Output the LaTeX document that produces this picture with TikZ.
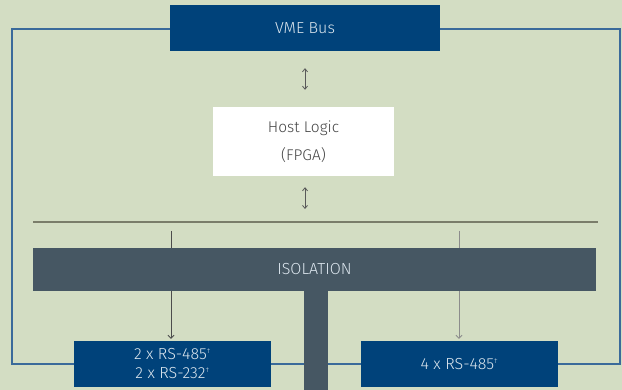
\documentclass[tikz,border=0pt]{standalone}
\usepackage{fontspec}
\setmainfont{Fira Sans}[UprightFont=* Light]
\usetikzlibrary{arrows.meta}
\definecolor{bg}{HTML}{D3DDC3}
\definecolor{navy}{HTML}{00427A}
\definecolor{slate}{HTML}{465763}
\definecolor{frame}{HTML}{3A6A9A}
\definecolor{busline}{HTML}{7A7D6A}
\definecolor{lighttxt}{HTML}{DCE6EE}
\definecolor{darktxt}{HTML}{444444}
\tikzset{
  navybox/.style={fill=navy, draw=none, text=lighttxt, minimum width=#1, minimum height=46pt, inner sep=0pt, align=center, font=\fontsize{16}{19}\selectfont},
  hostbox/.style={fill=white, draw=none, text=darktxt, minimum width=181pt, minimum height=69pt, inner sep=0pt, align=center, font=\fontsize{15.5}{28}\selectfont},
  isobar/.style={fill=slate, draw=none, text=lighttxt, minimum width=563pt, minimum height=43pt, inner sep=0pt, font=\fontsize{16}{18}\selectfont},
  dbl/.style={draw=black!65, line width=0.8pt, {Straight Barb[length=3pt,width=5pt]}-{Straight Barb[length=3pt,width=5pt]}},
  down/.style={line width=0.8pt, -{Straight Barb[length=3pt,width=6pt]}},
  plain/.style={line width=0.8pt},
}
\newcommand{\mk}{\textsuperscript{\fontsize{7}{7}\selectfont\textdagger}}
\begin{document}
\begin{tikzpicture}[x=1pt, y=-1pt]
\useasboundingbox (0,0) rectangle (622,390);
\fill[bg] (0,0) rectangle (622,390);
% frame
\draw[frame, line width=1.4pt] (12,29) rectangle (620,364);
% bus line
\coordinate (busL) at (33,222);
\coordinate (busR) at (598,222);
\draw[busline, line width=2pt] (busL) -- (busR);
% isolation
\node[isobar] (iso) at (314.5,269.5) {ISOLATION};
\fill[slate] (304,291) rectangle (328,390);
\node[navybox=270pt] (vme) at (305,28) {VME Bus};
\node[hostbox] (host) at (303.5,141.5) {Host Logic\\(FPGA)};
\node[navybox=197pt] (lbox) at (172.5,364) {2 x RS-485\mk\\2 x RS-232\mk};
\node[navybox=197pt] (rbox) at (459.5,364) {4 x RS-485\mk};
% arrows
\draw[dbl, shorten <=17pt, shorten >=17pt] (vme.south) -- (vme.south |- host.north);
\draw[dbl, shorten <=11pt, shorten >=13pt] (vme.south |- host.south) -- (vme.south |- busL);
\coordinate (lx) at (171,0);
\coordinate (rx) at (459,0);
\draw[plain, black!70, shorten <=9pt] (lx |- busL) -- (lx |- iso.north);
\draw[down, black!70, shorten >=2pt] (lx |- iso.south) -- (lx |- lbox.north);
\draw[plain, black!45, shorten <=9pt] (rx |- busL) -- (rx |- iso.north);
\draw[down, black!45, shorten >=2pt] (rx |- iso.south) -- (rx |- rbox.north);
\end{tikzpicture}
\end{document}
